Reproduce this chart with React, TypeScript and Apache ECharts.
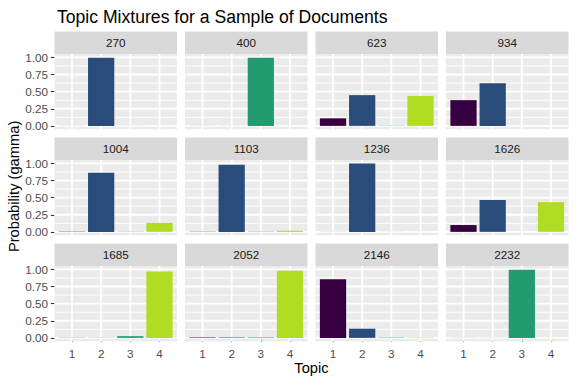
import React, { useEffect, useRef } from "react";
import * as echarts from "echarts";

const documents = ["270", "400", "623", "934", "1004", "1103", "1236", "1626", "1685", "2052", "2146", "2232"];
const topics = [1, 2, 3, 4];
const topic1Gamma = [0.001, 0.001, 0.11, 0.376, 0.004, 0.003, 0.001, 0.1, 0.002, 0.007, 0.856, 0.001];
const topic2Gamma = [0.997, 0.001, 0.449, 0.624, 0.862, 0.979, 0.998, 0.466, 0.002, 0.007, 0.134, 0.001];
const topic3Gamma = [0.001, 0.997, 0.003, 0.0, 0.003, 0.002, 0.001, 0.0, 0.025, 0.007, 0.005, 0.997];
const topic4Gamma = [0.001, 0.001, 0.438, 0.0, 0.131, 0.016, 0.001, 0.434, 0.971, 0.979, 0.005, 0.001];
const topicColors = ["#360040", "#2A4C7A", "#219B6F", "#B0DD21"];
const yTicks = [0, 0.25, 0.5, 0.75, 1];
const yMinorTicks = [0.125, 0.375, 0.625, 0.875];
const yTickLabels = ["0.00", "0.25", "0.50", "0.75", "1.00"];
const xTickLabels = ["1", "2", "3", "4"];

const FONT = "'Liberation Sans', Arial, Helvetica, sans-serif";

export default function App() {
  const ref = useRef<HTMLDivElement>(null);
  useEffect(() => {
    if (!ref.current) return;
    const chart = echarts.init(ref.current, undefined, { renderer: "svg" });
    const gammas = [topic1Gamma, topic2Gamma, topic3Gamma, topic4Gamma];
    const xMin = 0.4, xMax = 4.6, yMin = -0.05, yMax = 1.05;
    const panelLeft = [54.5, 185, 315.5, 446];
    const panelW = 122.5;
    const panelTop = [54, 160, 266];
    const panelH = 75.3;
    const stripH = 22.5;
    const barW = (0.9 * panelW) / (xMax - xMin);

    const grids: any[] = [];
    const xAxes: any[] = [];
    const yAxes: any[] = [];
    const series: any[] = [];
    const graphics: any[] = [];

    documents.forEach((doc, i) => {
      const row = Math.floor(i / 4);
      const col = i % 4;
      const left = panelLeft[col];
      const top = panelTop[row];
      grids.push({
        left, top, width: panelW, height: panelH,
        show: true, backgroundColor: "#EBEBEB", borderWidth: 0,
      });
      const bottomRow = row === 2;
      const leftCol = col === 0;
      xAxes.push({
        type: "value", gridIndex: i, min: xMin, max: xMax,
        splitLine: { show: false },
        axisLine: { show: false },
        axisTick: { show: bottomRow, customValues: topics, length: 3.7, lineStyle: { color: "#333333", width: 1.1 } },
        axisLabel: {
          show: bottomRow, customValues: topics, margin: 6.5,
          formatter: (v: number) => xTickLabels[topics.indexOf(v)] ?? "",
          color: "#4D4D4D", fontSize: 11.7, fontFamily: FONT,
        },
      });
      yAxes.push({
        type: "value", gridIndex: i, min: yMin, max: yMax,
        splitLine: { show: false },
        axisLine: { show: false },
        axisTick: { show: leftCol, customValues: yTicks, length: 3.7, lineStyle: { color: "#333333", width: 1.1 } },
        axisLabel: {
          show: leftCol, customValues: yTicks, margin: 6.5,
          formatter: (v: number) => yTickLabels[yTicks.indexOf(v)] ?? "",
          color: "#4D4D4D", fontSize: 11.7, fontFamily: FONT,
        },
      });
      const gridData: number[][] = [
        ...yMinorTicks.map((v) => [2, v]),
        ...yTicks.map((v) => [1, v]),
        ...topics.map((v) => [0, v]),
      ];
      series.push({
        type: "custom", xAxisIndex: i, yAxisIndex: i, z: 1, silent: true,
        data: gridData,
        renderItem: (_p: any, api: any) => {
          const kind = api.value(0);
          const v = api.value(1);
          let a, b;
          if (kind === 0) { a = api.coord([v, yMin]); b = api.coord([v, yMax]); }
          else { a = api.coord([xMin, v]); b = api.coord([xMax, v]); }
          return {
            type: "line",
            shape: { x1: a[0], y1: a[1], x2: b[0], y2: b[1] },
            style: { stroke: "#FFFFFF", lineWidth: kind === 2 ? 0.95 : 1.9 },
          };
        },
      });
      series.push({
        type: "bar", xAxisIndex: i, yAxisIndex: i, z: 2, barWidth: barW,
        silent: true,
        data: topics.map((t, k) => ({ value: [t, gammas[k][i]], itemStyle: { color: topicColors[k] } })),
      });
      graphics.push({
        type: "rect", left, top: top - stripH,
        shape: { x: 0, y: 0, width: panelW, height: stripH },
        style: { fill: "#D9D9D9" }, silent: true,
      });
      graphics.push({
        type: "text", x: left + panelW / 2, y: top - stripH / 2,
        style: { text: doc, fill: "#1A1A1A", fontSize: 11.7, fontFamily: FONT, textAlign: "center", textVerticalAlign: "middle" },
        silent: true,
      });
    });

    graphics.push({
      type: "text", x: (panelLeft[0] + panelLeft[3] + panelW) / 2, y: 368,
      style: { text: "Topic", fill: "#000000", fontSize: 14.7, fontFamily: FONT, textAlign: "center", textVerticalAlign: "middle" },
    });
    graphics.push({
      type: "text", x: 14, y: (panelTop[0] - stripH + panelTop[2] + panelH) / 2, rotation: Math.PI / 2,
      style: { text: "Probability (gamma)", fill: "#000000", fontSize: 14.7, fontFamily: FONT, textAlign: "center", textVerticalAlign: "middle" },
    });

    chart.setOption({
      animation: false,
      backgroundColor: "#FFFFFF",
      title: {
        text: "Topic Mixtures for a Sample of Documents",
        left: 52, top: 3,
        textStyle: { fontSize: 17.6, fontWeight: "normal", color: "#000000", fontFamily: FONT },
      },
      grid: grids,
      xAxis: xAxes,
      yAxis: yAxes,
      series,
      graphic: graphics,
    });
    return () => chart.dispose();
  }, []);
  return <div ref={ref} style={{ position: "fixed", left: 0, top: 0, width: 576, height: 384 }} />;
}
